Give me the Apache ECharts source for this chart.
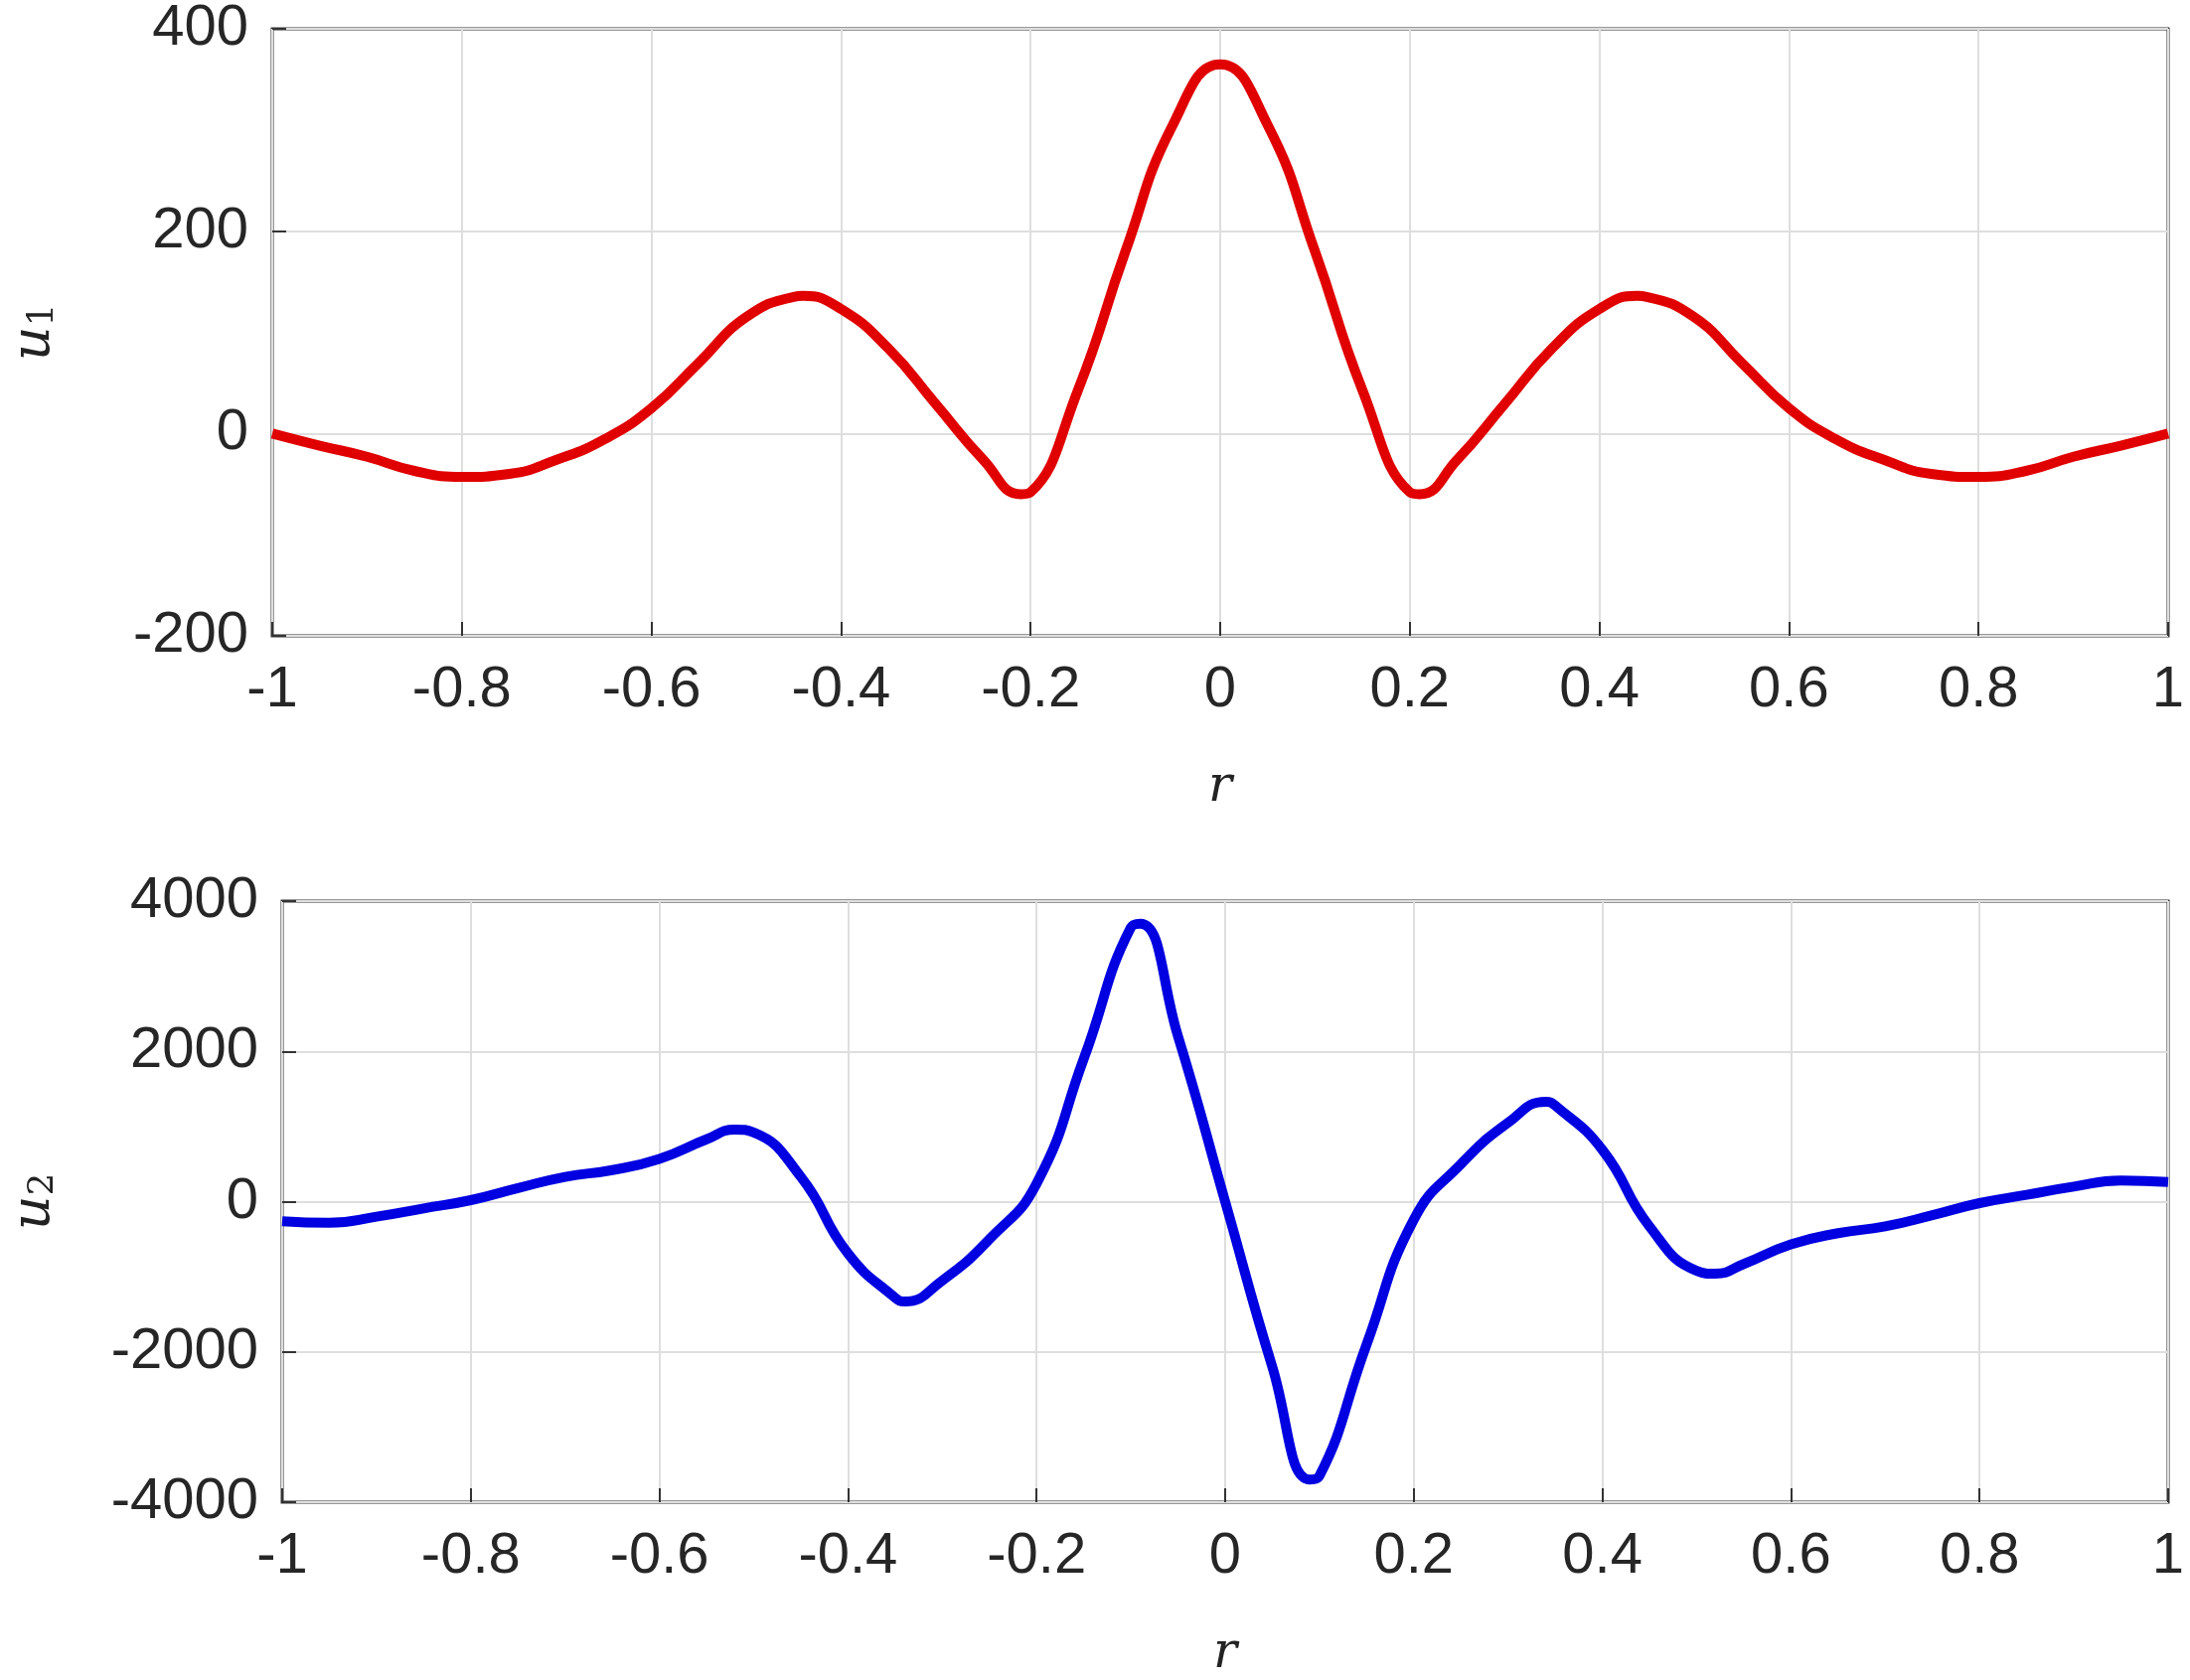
<!DOCTYPE html>
<html><head><meta charset="utf-8">
<script src="https://cdn.jsdelivr.net/npm/echarts@6/dist/echarts.min.js"></script>
<style>html,body{margin:0;padding:0;background:#fff}#c{width:2204px;height:1691px}</style>
</head><body><div id="c"></div>
<script>
const r = [-1,-0.95,-0.9,-0.85,-0.8,-0.75,-0.7,-0.65,-0.6,-0.55,-0.5,-0.45,-0.44,-0.4,-0.35,-0.3,-0.25,-0.21,-0.2,-0.15,-0.1,-0.05,0,0.05,0.1,0.15,0.2,0.21,0.25,0.3,0.35,0.4,0.44,0.45,0.5,0.55,0.6,0.65,0.7,0.75,0.8,0.85,0.9,0.95,1];
const u1 = [0,-12,-23,-37,-43,-40,-26,-6,25,70,115,135,136,123,84,29,-26,-60,-58,43,180,305,365,305,180,43,-58,-60,-26,29,84,123,136,135,115,70,25,-6,-26,-40,-43,-37,-23,-12,0];
const r2 = [-1,-0.95,-0.9,-0.85,-0.8,-0.75,-0.7,-0.65,-0.6,-0.55,-0.52,-0.5,-0.45,-0.4,-0.35,-0.34,-0.3,-0.25,-0.2,-0.15,-0.1,-0.09,-0.05,0,0.05,0.09,0.1,0.15,0.2,0.25,0.3,0.34,0.35,0.4,0.45,0.5,0.52,0.55,0.6,0.65,0.7,0.75,0.8,0.85,0.9,0.95,1];
const u2 = [-260,-280,-200,-90,20,180,330,420,570,830,960,920,330,-690,-1280,-1330,-1050,-500,240,1900,3650,3700,2200,0,-2200,-3700,-3650,-1900,-240,500,1050,1330,1280,690,-330,-920,-960,-830,-570,-420,-330,-180,-20,90,200,280,260];

const font = 'Liberation Sans';
function xAxis(gi){return {type:'value',gridIndex:gi,min:-1,max:1,interval:0.2,
  name:'r',nameLocation:'middle',nameGap:128,
  nameTextStyle:{fontFamily:'DejaVu Serif',fontStyle:'italic',fontSize:50,color:'#222'},
  axisLine:{show:false,onZero:false},axisTick:{inside:true,length:14,lineStyle:{color:'#333',width:2}},
  axisLabel:{fontFamily:font,fontSize:58,color:'#262626',margin:26,formatter:v=>String(+v.toFixed(1))},
  splitLine:{show:true,lineStyle:{color:'#dedede',width:2}}};}
function yAxis(gi,mn,mx,iv,sub){return {type:'value',gridIndex:gi,min:mn,max:mx,interval:iv,
  name:'{u|u}{s|'+sub+'}',nameLocation:'middle',nameGap:gi?222:212,nameRotate:90,
  nameTextStyle:{rich:{u:{fontFamily:'DejaVu Serif',fontStyle:'italic',fontSize:54,color:'#222'},s:{fontFamily:'DejaVu Serif',fontSize:36,color:'#222',verticalAlign:'bottom',padding:[18,0,0,0]}}},
  axisLine:{show:false,onZero:false},axisTick:{inside:true,length:14,lineStyle:{color:'#333',width:2}},
  axisLabel:{fontFamily:font,fontSize:58,color:'#262626',margin:24,formatter:v=>String(v)},
  splitLine:{show:true,lineStyle:{color:'#dedede',width:2}}};}
const chart = echarts.init(document.getElementById('c'));
chart.setOption({
  backgroundColor:'#fff',animation:false,
  grid:[{left:267,top:28,width:1915,height:612,show:true,borderColor:'#333',borderWidth:3,backgroundColor:'transparent'},
        {left:267,top:907,width:1915,height:611,show:true,borderColor:'#333',borderWidth:3,backgroundColor:'transparent'}],
  xAxis:[xAxis(0),xAxis(1)],
  yAxis:[yAxis(0,-200,400,200,'1'),yAxis(1,-4000,4000,2000,'2')],
  series:[
    {type:'line',xAxisIndex:0,yAxisIndex:0,data:r.map((x,i)=>[x,u1[i]]),smooth:0.5,showSymbol:false,lineStyle:{color:'#e00000',width:10}},
    {type:'line',xAxisIndex:1,yAxisIndex:1,data:r2.map((x,i)=>[x,u2[i]]),smooth:0.5,showSymbol:false,lineStyle:{color:'#0000e0',width:10}}
  ]
});
</script></body></html>
